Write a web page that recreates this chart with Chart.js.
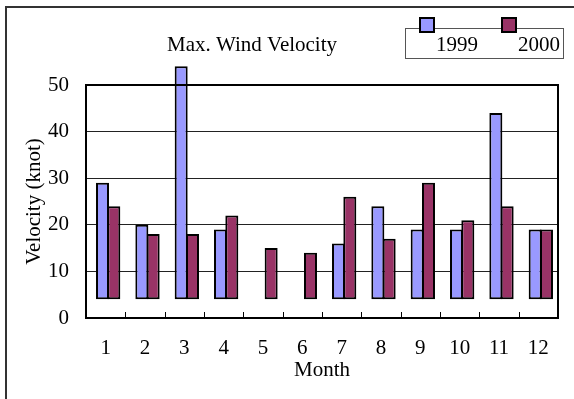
<!DOCTYPE html>
<html lang="en">
  <head>
    <meta charset="UTF-8">
    <title>Max. Wind Velocity</title>
    <script src="https://cdn.jsdelivr.net/npm/chart.js"></script>
    <style>
      body {
        margin: 0;
        background-color: #fff
      }

      canvas {
        display: block
      }
    </style>
  </head>
  <body>
    <canvas id="wind-chart" width="574" height="399"></canvas>
    <script>
      const months = ['1', '2', '3', '4', '5', '6', '7', '8', '9', '10', '11', '12'];
      const base = 4;
      const wind1999 = [29, 20, 54, 19, null, null, 16, 24, 19, 19, 44, 19];
      const wind2000 = [24, 18, 18, 22, 15, 14, 26, 17, 29, 21, 24, 19];
      const yTicks = [0, 10, 20, 30, 40, 50];

      const serif = "'Liberation Serif', 'Times New Roman', serif";
      const toRange = values => values.map(v => v === null ? null : [base, v]);

      // frame, title, legend and inner tick marks drawn around the chart
      const decorPlugin = {
        id: 'decor',
        beforeDraw(chart) {
          const c = chart.ctx;
          c.save();
          c.fillStyle = '#fff';
          c.fillRect(0, 0, chart.width, chart.height);
          c.strokeStyle = '#333';
          c.lineWidth = 2;
          c.beginPath();
          c.moveTo(6, chart.height);
          c.lineTo(6, 7);
          c.lineTo(chart.width, 7);
          c.stroke();
          c.restore();
        },
        beforeDatasetsDraw(chart) {
          // bars sit a little right of the category centre in the original
          chart.ctx.save();
          chart.ctx.translate(2.5, 0);
        },
        afterDatasetsDraw(chart) {
          chart.ctx.restore();
        },
        afterDraw(chart) {
          const c = chart.ctx;
          const area = chart.chartArea;
          const x = chart.scales.x;
          c.save();
          c.strokeStyle = '#000';
          c.lineWidth = 2;
          c.strokeRect(area.left, area.top, area.right - area.left, area.bottom - area.top);
          c.lineWidth = 1;
          c.beginPath();
          for (let i = 1; i < months.length; i++) {
            const px = Math.round((x.getPixelForValue(i - 1) + x.getPixelForValue(i)) / 2) + 0.5;
            c.moveTo(px, area.bottom);
            c.lineTo(px, area.bottom - 6);
          }
          c.stroke();

          c.fillStyle = '#000';
          c.font = '21px ' + serif;
          c.textBaseline = 'alphabetic';
          c.textAlign = 'left';
          c.fillText('Max. Wind Velocity', 167, 51);

          c.fillStyle = '#fff';
          c.fillRect(405, 28, 158, 30);
          c.strokeStyle = '#555';
          c.lineWidth = 1;
          c.strokeRect(405.5, 28.5, 158, 30);
          const legendPos = [[420, 436], [502, 518]];
          chart.data.datasets.forEach((ds, i) => {
            const [mx, tx] = legendPos[i];
            c.fillStyle = ds.backgroundColor;
            c.fillRect(mx, 18, 14, 14);
            c.strokeStyle = '#000';
            c.lineWidth = 2;
            c.strokeRect(mx, 18, 14, 14);
            c.fillStyle = '#000';
            c.fillText(ds.label, tx, 51);
          });
          c.restore();
        }
      };

      const ctx = document.getElementById('wind-chart').getContext('2d');
      const windChart = new Chart(ctx, {
        type: 'bar',
        data: {
          labels: months,
          datasets: [{
            label: '1999',
            data: toRange(wind1999),
            backgroundColor: '#9999FF',
            borderColor: '#000',
            borderWidth: 2,
            borderSkipped: false,
            clip: false
          }, {
            label: '2000',
            data: toRange(wind2000),
            backgroundColor: '#993366',
            borderColor: '#000',
            borderWidth: 2,
            borderSkipped: false,
            clip: false
          }]
        },
        options: {
          responsive: false,
          animation: false,
          categoryPercentage: 0.575,
          barPercentage: 1.15,
          layout: {
            padding: { top: 85, right: 16, left: 0, bottom: 0 }
          },
          plugins: {
            legend: { display: false },
            tooltip: { enabled: false }
          },
          scales: {
            x: {
              afterFit: s => { s.height = 81; },
              grid: { drawOnChartArea: false, drawTicks: false },
              border: { color: '#000', width: 2 },
              ticks: {
                color: '#000',
                padding: 18,
                maxRotation: 0,
                font: { family: serif, size: 21 }
              },
              title: {
                display: true,
                text: 'Month',
                color: '#000',
                padding: { bottom: 16 },
                font: { family: serif, size: 21 }
              }
            },
            y: {
              min: yTicks[0],
              max: yTicks[yTicks.length - 1],
              afterFit: s => { s.width = 86; },
              afterBuildTicks: s => { s.ticks = yTicks.map(v => ({ value: v })); },
              grid: { color: '#222', drawTicks: false },
              border: { color: '#000', width: 2 },
              ticks: {
                color: '#000',
                padding: 17,
                font: { family: serif, size: 21 }
              },
              title: {
                display: true,
                text: 'Velocity (knot)',
                color: '#000',
                padding: { top: 22 },
                font: { family: serif, size: 21 }
              }
            }
          }
        },
        plugins: [decorPlugin]
      });
    </script>
  </body>
</html>
